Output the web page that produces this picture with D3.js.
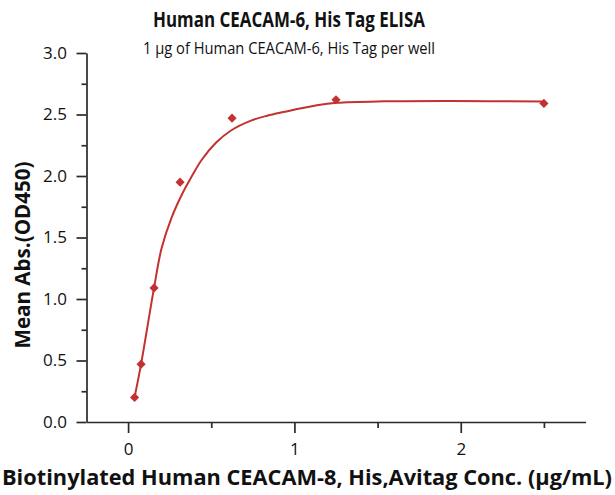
<!DOCTYPE html>
<html>
<head>
<meta charset="utf-8">
<script src="https://cdn.jsdelivr.net/npm/d3@7/dist/d3.min.js"></script>
<style>
  html, body { margin: 0; padding: 0; background: #fff; }
  svg { display: block; }
  text { font-family: "Open Sans", "DejaVu Sans", sans-serif; fill: #111; }
</style>
</head>
<body>
<svg id="chart" width="615" height="495"></svg>
<script>
// ---- Data ----
const concentrations = [0.0390625, 0.078125, 0.15625, 0.3125, 0.625, 1.25, 2.5];
const meanAbs        = [0.20, 0.47, 1.09, 1.95, 2.47, 2.62, 2.59];

// points
const fitX = [0.039, 0.078, 0.156, 0.201, 0.261, 0.331, 0.382, 0.442, 0.528, 0.619, 0.739, 0.836, 0.934, 1.135, 1.255, 1.536, 1.938, 2.5];
const fitY = [0.20, 0.47, 1.09, 1.41, 1.66, 1.87, 1.995, 2.13, 2.27, 2.37, 2.45, 2.49, 2.52, 2.575, 2.595, 2.607, 2.61, 2.605];

const xMajorTicks = [0, 1, 2];
const xMinorTicks = [0.5, 1.5, 2.5];
const yMajorTicks = [0, 0.5, 1.0, 1.5, 2.0, 2.5, 3.0];
const yMinorTicks = [0.25, 0.75, 1.25, 1.75, 2.25, 2.75];

const titleText = "Human CEACAM-6, His Tag ELISA";
const subtitleText = "1 \u03bcg of Human CEACAM-6, His Tag per well";
const xTitle = "Biotinylated Human CEACAM-8, His,Avitag Conc. (\u03bcg/mL)";
const yTitle = "Mean Abs.(OD450)";

// ---- Drawing ----
const svg = d3.select("#chart");
const red = "#c33130";
const axisColor = "#2a2a2a";

const x = d3.scaleLinear().domain([-0.25, 2.75]).range([86.5, 585.5]);
const y = d3.scaleLinear().domain([0, 3]).range([422, 53]);

// Y axis (major + minor)
const gy = svg.append("g").attr("transform", `translate(${x(-0.25)},0)`)
  .call(d3.axisLeft(y).tickValues(yMajorTicks).tickSize(10).tickSizeOuter(0).tickPadding(9.5)
        .tickFormat(d3.format(".1f")));
const gyMinor = svg.append("g").attr("transform", `translate(${x(-0.25)},0)`)
  .call(d3.axisLeft(y).tickValues(yMinorTicks).tickSize(5).tickFormat(""));
gyMinor.select(".domain").remove();

// X axis (major + minor)
const gx = svg.append("g").attr("transform", `translate(0,${y(0)})`)
  .call(d3.axisBottom(x).tickValues(xMajorTicks).tickSize(11).tickSizeOuter(0).tickPadding(10)
        .tickFormat(d3.format("d")));
const gxMinor = svg.append("g").attr("transform", `translate(0,${y(0)})`)
  .call(d3.axisBottom(x).tickValues(xMinorTicks).tickSize(6).tickFormat(""));
gxMinor.select(".domain").remove();

[gy, gyMinor, gx, gxMinor].forEach(g => {
  g.selectAll("path, line").attr("stroke", axisColor).attr("stroke-width", 1.7);
  g.selectAll("text").style("font-size", "17px").attr("fill", "#222")
    .style("font-family", "'Open Sans', sans-serif");
});

// Fit curve
const fitData = fitX.map((d, i) => [d, fitY[i]]);
svg.append("path")
  .datum(fitData)
  .attr("fill", "none")
  .attr("stroke", red)
  .attr("stroke-width", 2)
  .attr("d", d3.line().x(d => x(d[0])).y(d => y(d[1])).curve(d3.curveCatmullRom.alpha(0.5)));

// Markers (diamonds)
const pts = concentrations.map((c, i) => [c, meanAbs[i]]);
svg.append("g").selectAll("path")
  .data(pts)
  .join("path")
  .attr("transform", d => `translate(${x(d[0])},${y(d[1])}) rotate(45)`)
  .attr("d", d3.symbol().type(d3.symbolSquare).size(42))
  .attr("fill", red);

// Titles
svg.append("text")
  .attr("x", 289).attr("y", 27)
  .attr("text-anchor", "middle")
  .style("font-size", "21px").style("font-weight", "bold")
  .attr("textLength", 272).attr("lengthAdjust", "spacingAndGlyphs")
  .text(titleText);

svg.append("text")
  .attr("x", 289).attr("y", 54)
  .attr("text-anchor", "middle")
  .style("font-size", "17px")
  .attr("textLength", 292).attr("lengthAdjust", "spacingAndGlyphs")
  .text(subtitleText);

svg.append("text")
  .attr("x", 307).attr("y", 485)
  .attr("text-anchor", "middle")
  .style("font-size", "21px").style("font-weight", "bold")
  .attr("textLength", 610).attr("lengthAdjust", "spacingAndGlyphs")
  .text(xTitle);

svg.append("text")
  .attr("transform", "translate(29.5,255) rotate(-90)")
  .attr("text-anchor", "middle")
  .style("font-size", "21px").style("font-weight", "bold")
  .attr("textLength", 187).attr("lengthAdjust", "spacingAndGlyphs")
  .text(yTitle);
</script>
</body>
</html>
